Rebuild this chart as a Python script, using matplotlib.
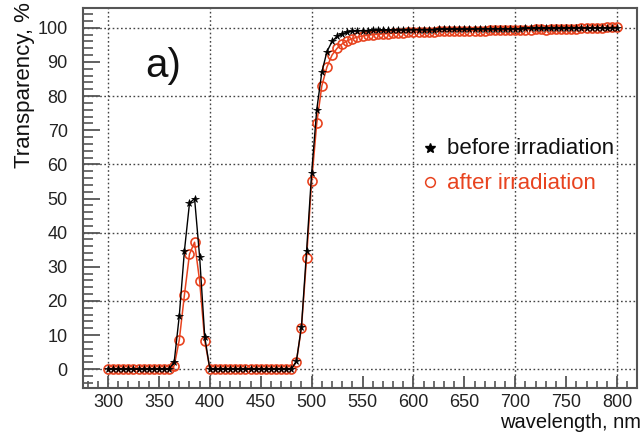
import matplotlib
matplotlib.use("Agg")
import matplotlib.pyplot as plt
from matplotlib.ticker import MultipleLocator

plt.rcParams['font.family'] = ['Liberation Sans', 'DejaVu Sans']

wavelength = [300, 305, 310, 315, 320, 325, 330, 335, 340, 345, 350, 355, 360,
              365, 370, 375, 380, 385, 390, 395, 400,
              405, 410, 415, 420, 425, 430, 435, 440, 445, 450, 455, 460, 465, 470, 475, 480,
              485, 490, 495, 500, 505, 510, 515, 520, 525, 530, 535, 540, 545, 550,
              555, 560, 565, 570, 575, 580, 585, 590, 595, 600,
              605, 610, 615, 620, 625, 630, 635, 640, 645, 650,
              655, 660, 665, 670, 675, 680, 685, 690, 695, 700,
              705, 710, 715, 720, 725, 730, 735, 740, 745, 750,
              755, 760, 765, 770, 775, 780, 785, 790, 795, 800]

before = [0, 0, 0, 0, 0, 0, 0, 0, 0, 0, 0, 0, 0,
          2.2, 15.7, 34.6, 48.6, 50.0, 32.8, 9.5, 0.0,
          0, 0, 0, 0, 0, 0, 0, 0, 0, 0, 0, 0, 0, 0, 0, 0,
          2.3, 12.5, 34.5, 57.5, 76.0, 87.0, 93.0, 96.0, 97.5, 98.3, 98.7, 99.0, 99.1, 99.2,
          99.2, 99.3, 99.3, 99.3, 99.4, 99.4, 99.4, 99.4, 99.5, 99.5,
          99.5, 99.5, 99.5, 99.5, 99.6, 99.6, 99.6, 99.6, 99.6, 99.6,
          99.6, 99.6, 99.7, 99.7, 99.7, 99.7, 99.7, 99.7, 99.7, 99.7,
          99.7, 99.8, 99.8, 99.8, 99.8, 99.8, 99.8, 99.8, 99.8, 99.9,
          99.9, 99.9, 99.9, 99.9, 99.9, 100.0, 100.0, 100.0, 100.0, 100.0]

after = [0, 0, 0, 0, 0, 0, 0, 0, 0, 0, 0, 0, 0,
         1.0, 8.6, 21.7, 33.7, 37.2, 25.8, 8.3, 0.2,
         0, 0, 0, 0, 0, 0, 0, 0, 0, 0, 0, 0, 0, 0, 0, 0,
         2.2, 12.2, 32.5, 55.0, 72.0, 83.0, 88.5, 92.0, 94.0, 95.3, 96.2, 96.8, 97.3, 97.6,
         97.8, 98.0, 98.1, 98.2, 98.3, 98.4, 98.5, 98.6, 98.7, 98.7,
         98.8, 98.8, 98.9, 98.9, 99.0, 99.0, 99.0, 99.1, 99.1, 99.1,
         99.1, 99.2, 99.2, 99.2, 99.3, 99.3, 99.3, 99.3, 99.4, 99.4,
         99.4, 99.5, 99.5, 99.6, 99.6, 99.5, 99.6, 99.7, 99.7, 99.6,
         99.7, 99.7, 99.8, 99.8, 99.9, 99.9, 100.0, 100.1, 100.3, 100.3]

labels = ["before irradiation", "after irradiation"]
red = '#e8431f'
axis_col = '#555555'

W, H = 643, 433
fig = plt.figure(figsize=(W / 100, H / 100), dpi=100)
L, R, B, T = 83, 637, 388, 8
ax = fig.add_axes([L / W, 1 - B / H, (R - L) / W, (B - T) / H])

ax.set_xlim(275.4, 819.6)
ax.set_ylim(-5.5, 105.8)

ax.plot(wavelength, after, color=red, lw=1.1, marker='o', ms=6.5,
        mfc='none', mec=red, mew=1.2, zorder=3)
ax.plot(wavelength, before, color='black', lw=1.0, marker='*', ms=5.5,
        mfc='black', mec='black', mew=0.5, zorder=4)

# grid
for gx in [300, 400, 500, 600, 700, 800]:
    ax.axvline(gx, color='#444444', lw=1.0, ls=(0, (1.2, 1.8)), zorder=1)
for gy in [0, 20, 40, 60, 80, 100]:
    ax.axhline(gy, color='#444444', lw=1.0, ls=(0, (1.2, 1.8)), zorder=1)

ax.xaxis.set_major_locator(MultipleLocator(50))
ax.xaxis.set_minor_locator(MultipleLocator(10))
ax.yaxis.set_major_locator(MultipleLocator(10))
ax.yaxis.set_minor_locator(MultipleLocator(2))
ax.tick_params(axis='x', which='major', direction='in', length=9, width=1.3,
               color=axis_col, labelsize=13, pad=4, labelcolor='#222222',
               top=False)
ax.tick_params(axis='x', which='minor', direction='in', length=5, width=1.2,
               color=axis_col, top=False)
ax.tick_params(axis='y', which='major', direction='in', length=12, width=1.3,
               color=axis_col, labelsize=13, pad=11, labelcolor='#222222',
               right=False)
ax.tick_params(axis='y', which='minor', direction='in', length=7, width=1.2,
               color=axis_col, right=False)
for s in ax.spines.values():
    s.set_color(axis_col)
    s.set_linewidth(1.5)

# manual legend
ax.plot([0.626], [0.632], transform=ax.transAxes, marker='*', ms=7,
        color='black', ls='none', clip_on=False)
ax.text(0.657, 0.630, labels[0], transform=ax.transAxes, fontsize=16,
        color='#111111', ha='left', va='center')
ax.plot([0.626], [0.542], transform=ax.transAxes, marker='o', ms=7,
        mfc='none', mec=red, mew=1.1, ls='none', clip_on=False)
ax.text(0.657, 0.538, labels[1], transform=ax.transAxes, fontsize=16,
        color=red, ha='left', va='center')

ax.text(0.144, 0.847, "a)", transform=ax.transAxes, fontsize=29,
        color='#111111', ha='center', va='center')

fig.text(25 / W, 1 - 2 / H, "Transparency, %", rotation=90, fontsize=16,
         color='#111111', ha='center', va='top')
fig.text(641 / W, 1 / H, "wavelength, nm", fontsize=14.5,
         color='#111111', ha='right', va='bottom')

fig.savefig("out.png", dpi=100)
